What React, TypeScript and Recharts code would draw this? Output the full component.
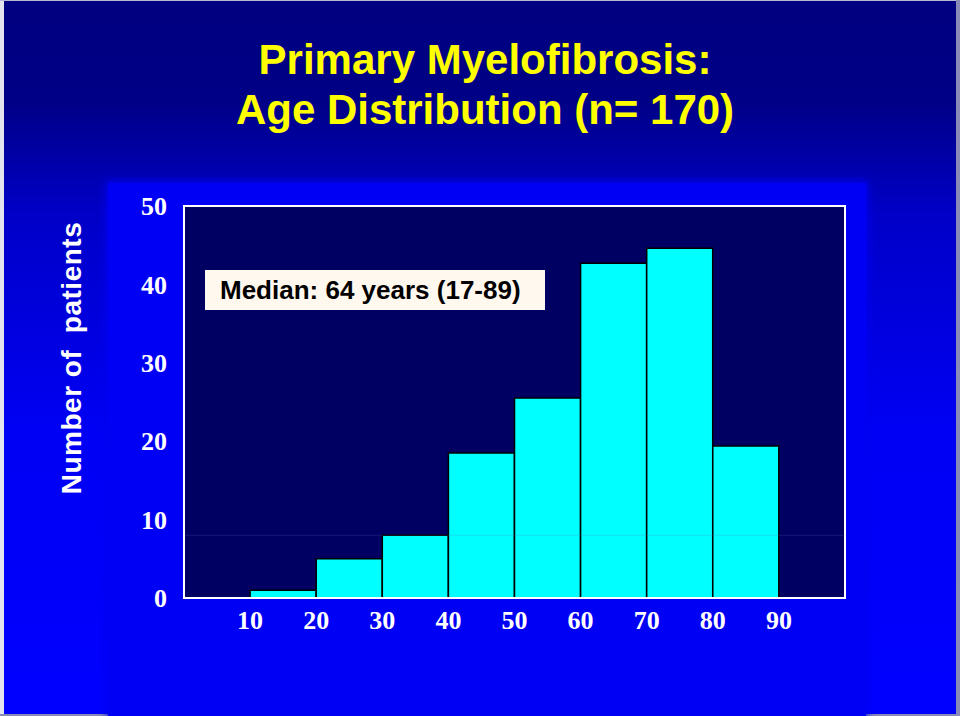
import { BarChart, Bar, XAxis, YAxis, CartesianGrid, ReferenceLine, ReferenceArea } from 'recharts'

/* ─── Data ─── */

const ageBins = ['10-20', '20-30', '30-40', '40-50', '50-60', '60-70', '70-80', '80-90']
const binMidpoints = [15, 25, 35, 45, 55, 65, 75, 85]
const patientCounts = [1, 5, 8, 18.5, 25.5, 42.7, 44.6, 19.4]

const xTicks = [10, 20, 30, 40, 50, 60, 70, 80, 90]
const yTicks = [0, 10, 20, 30, 40, 50]
const topMinorTicks = [1, 2, 3, 4, 5, 6, 7, 8, 9, 10]
const leftMinorTicks = [1, 2, 3, 4, 5, 6]

const data = ageBins.map((bin, i) => ({ bin, age: binMidpoints[i], patients: patientCounts[i] }))

/* ─── Styles ─── */

const sans = '"Liberation Sans", Arial, Helvetica, sans-serif'
const serif = '"Liberation Serif", "Times New Roman", serif'
const tickFont = { fill: '#ffffff', fontSize: 26, fontWeight: 'bold', fontFamily: serif }
const whiteLine = { stroke: '#ffffff', strokeWidth: 2 }

export default function App() {
  return (
    <div
      style={{
        position: 'absolute',
        left: 0,
        top: 0,
        width: 960,
        height: 716,
        overflow: 'hidden',
        background: 'linear-gradient(to bottom, #000080 0%, #000086 14%, #0000c8 30%, #0000f4 60%, #0000ff 100%)',
      }}
    >
      {/* edge lines of the scanned slide */}
      <div style={{ position: 'absolute', left: 0, top: 0, width: 4, height: 716, background: '#e4e4ee' }} />
      <div style={{ position: 'absolute', left: 0, top: 0, width: 960, height: 1, background: '#b8b8d0' }} />
      <div style={{ position: 'absolute', left: 956, top: 0, width: 4, height: 716, background: '#8a8ab8' }} />
      <div style={{ position: 'absolute', left: 0, top: 714, width: 960, height: 2, background: '#8a8ab8' }} />

      {/* title */}
      <div
        style={{
          position: 'absolute',
          left: 0,
          top: 35,
          width: 970,
          textAlign: 'center',
          color: '#ffff00',
          fontFamily: sans,
          fontWeight: 'bold',
          fontSize: 42,
          lineHeight: '50px',
        }}
      >
        <div>Primary Myelofibrosis:</div>
        <div>Age Distribution (n= 170)</div>
      </div>

      {/* bright panel behind the plot */}
      <div
        style={{
          position: 'absolute',
          left: 108,
          top: 183,
          width: 758,
          height: 533,
          background: '#0000f4',
          boxShadow: '0 0 8px 2px #0000f0',
        }}
      />

      {/* y axis title */}
      <div
        style={{
          position: 'absolute',
          left: 72,
          top: 358,
          transform: 'translate(-50%, -50%) rotate(-90deg)',
          whiteSpace: 'pre',
          color: '#ffffff',
          fontFamily: sans,
          fontWeight: 'bold',
          fontSize: 28,
          letterSpacing: 0.5,
        }}
      >
        {'Number of  patients'}
      </div>

      <div style={{ position: 'absolute', left: 0, top: 0 }}>
        <BarChart
          width={960}
          height={716}
          data={data}
          margin={{ top: 206, right: 115, bottom: 78, left: 124 }}
          barCategoryGap={0}
          barGap={0}
        >
          <CartesianGrid xAxisId="main" yAxisId="main" fill="#000063" horizontal={false} vertical={false} />

          {/* minor tick marks drawn inside the frame */}
          <XAxis
            xAxisId="top"
            orientation="top"
            dataKey="age"
            type="number"
            domain={[0, 11]}
            ticks={topMinorTicks}
            interval={0}
            allowDataOverflow
            mirror
            height={1}
            tick={false}
            tickLine={{ stroke: '#ffffff' }}
            tickSize={4}
            axisLine={false}
          />
          <XAxis
            xAxisId="bottomMinor"
            orientation="bottom"
            dataKey="age"
            type="number"
            domain={[0, 100]}
            ticks={xTicks}
            interval={0}
            allowDataOverflow
            mirror
            height={1}
            tick={false}
            tickLine={{ stroke: '#ffffff' }}
            tickSize={4}
            axisLine={false}
          />
          <YAxis
            yAxisId="minor"
            orientation="left"
            dataKey="patients"
            type="number"
            domain={[0, 7]}
            ticks={leftMinorTicks}
            interval={0}
            allowDataOverflow
            mirror
            width={1}
            tick={false}
            tickLine={{ stroke: '#ffffff' }}
            tickSize={4}
            axisLine={false}
          />

          <XAxis
            xAxisId="main"
            dataKey="age"
            type="number"
            domain={[0, 100]}
            ticks={xTicks}
            interval={0}
            allowDataOverflow
            height={40}
            axisLine={whiteLine}
            tickLine={false}
            tickMargin={7}
            tick={tickFont}
          />
          <YAxis
            yAxisId="main"
            type="number"
            domain={[0, 50]}
            ticks={yTicks}
            interval={0}
            allowDataOverflow
            width={60}
            axisLine={whiteLine}
            tickLine={false}
            tickMargin={11}
            tick={tickFont}
          />

          <Bar
            xAxisId="main"
            yAxisId="main"
            dataKey="patients"
            fill="#00ffff"
            stroke="#000000"
            strokeWidth={1.5}
            barSize={66}
            isAnimationActive={false}
          />
          <ReferenceLine xAxisId="main" yAxisId="main" y={8} stroke="#6070b0" strokeOpacity={0.22} />
          {/* white frame round the plot */}
          <ReferenceArea
            xAxisId="main"
            yAxisId="main"
            x1={0}
            x2={100}
            y1={0}
            y2={50}
            fill="none"
            fillOpacity={0}
            stroke="#ffffff"
            strokeWidth={2}
            ifOverflow="visible"
          />
        </BarChart>
      </div>

      {/* median note */}
      <div
        style={{
          position: 'absolute',
          left: 205,
          top: 270,
          width: 340,
          height: 40,
          boxSizing: 'border-box',
          paddingLeft: 15,
          background: '#fff8ee',
          color: '#000000',
          fontFamily: sans,
          fontWeight: 'bold',
          fontSize: 26,
          lineHeight: '40px',
          whiteSpace: 'nowrap',
        }}
      >
        Median: 64 years (17-89)
      </div>
    </div>
  )
}
